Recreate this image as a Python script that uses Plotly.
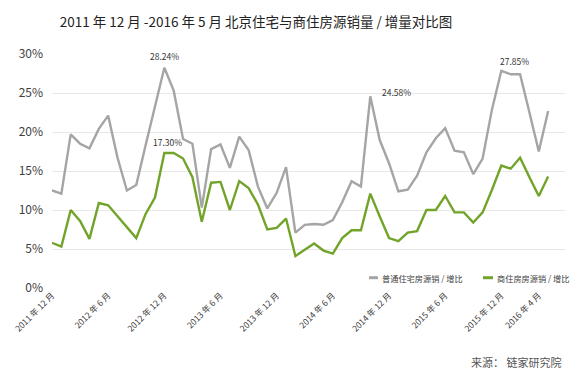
import plotly.graph_objects as go

# Months 2011-12 .. 2016-05
months = ["2011 年 12 月"] + [f"{y} 年 {m} 月" for y in range(2012, 2017) for m in range(1, 13)]
months = months[:54]

residential = [12.5, 12.1, 19.7, 18.5, 17.9, 20.4, 22.1, 16.7, 12.5, 13.2,
               18.3, 23.3, 28.24, 25.3, 19.1, 18.5, 10.3, 17.8, 18.4, 15.4,
               19.4, 17.7, 13.0, 10.2, 12.2, 15.5, 7.1, 8.1, 8.2, 8.1,
               8.7, 11.0, 13.7, 13.0, 24.58, 19.0, 16.0, 12.4, 12.6, 14.4,
               17.4, 19.2, 20.5, 17.6, 17.4, 14.6, 16.6, 22.9, 27.85, 27.4,
               27.4, 22.5, 17.5, 22.7]
commercial = [5.8, 5.3, 10.0, 8.6, 6.3, 10.9, 10.6, 9.2, 7.7, 6.4,
              9.5, 11.6, 17.3, 17.3, 16.6, 14.2, 8.5, 13.5, 13.6, 10.0,
              13.7, 12.8, 10.7, 7.5, 7.7, 8.9, 4.1, 4.9, 5.7, 4.8,
              4.4, 6.4, 7.4, 7.4, 12.1, 9.2, 6.4, 6.0, 7.1, 7.3,
              10.0, 10.0, 11.8, 9.7, 9.7, 8.4, 9.7, 12.6, 15.7, 15.3,
              16.7, 14.2, 11.8, 14.3]

tick_idx = [0, 6, 12, 18, 24, 30, 36, 42, 48, 52]
tick_labels = [months[i] for i in tick_idx]
y_ticks = [0, 5, 10, 15, 20, 25, 30]

series_names = ["普通住宅房源销 / 增比", "商住房房源销 / 增比"]
colors = ["#a5a5a5", "#72a42a"]

# labelled points: (series index, point index, xshift, yshift, xanchor)
labelled = [(0, 12, 0, 12, "center"), (1, 12, 3, 11, "center"),
            (0, 34, 10, 4, "left"), (0, 48, 13, 10, "center")]

x = list(range(len(months)))
fig = go.Figure()
for vals, name, col in zip([residential, commercial], series_names, colors):
    fig.add_trace(go.Scatter(x=x, y=vals, mode="lines", name=name,
                             line=dict(color=col, width=2.4), showlegend=False,
                             hoverinfo="skip"))

font_cjk = "Noto Sans CJK SC, Noto Sans, sans-serif"
for s, i, xs, ys, xa in labelled:
    v = [residential, commercial][s][i]
    fig.add_annotation(x=i, y=v, xref="x", yref="y", text=f"{v:.2f}%",
                       showarrow=False, xshift=xs, yshift=ys, xanchor=xa,
                       font=dict(size=8.5, color="#333333", family=font_cjk))

# custom legend (bottom right inside plot)
leg = [(369, 378, 380), (483, 493, 495)]
for (x0, x1, tx), name, col in zip(leg, series_names, colors):
    fig.add_shape(type="line", xref="paper", yref="paper",
                  x0=(x0 - 52) / 513, x1=(x1 - 52) / 513,
                  y0=(288.3 - 278) / 234.3, y1=(288.3 - 278) / 234.3,
                  line=dict(color=col, width=3))
    fig.add_annotation(xref="paper", yref="paper", x=(tx - 52) / 513,
                       y=(288.3 - 278) / 234.3, text=name, showarrow=False,
                       xanchor="left", yanchor="middle",
                       font=dict(size=8.2, color="#404040", family=font_cjk))

fig.add_annotation(xref="paper", yref="paper", x=(563 - 52) / 513,
                   y=(288.3 - 362) / 234.3, text="来源： 链家研究院",
                   showarrow=False, xanchor="right", yanchor="middle",
                   font=dict(size=11, color="#555555", family=font_cjk))

fig.update_layout(
    width=580, height=386,
    margin=dict(l=52, r=15, t=54, b=98, autoexpand=False),
    paper_bgcolor="white", plot_bgcolor="white",
    hovermode=False,
    title=dict(text="2011 年 12 月 -2016 年 5 月 北京住宅与商住房源销量 / 增量对比图",
               x=256 / 580, xanchor="center", y=1 - 22 / 386, yanchor="middle",
               xref="container", yref="container",
               font=dict(size=13.5, color="#222222", family=font_cjk)),
    xaxis=dict(range=[0, 54.8], tickmode="array", tickvals=tick_idx,
               ticktext=tick_labels, tickangle=-45, showgrid=False,
               zeroline=False, showline=False, automargin=False,
               tickfont=dict(size=8.5, color="#404040", family=font_cjk)),
    yaxis=dict(range=[0, 30], tickvals=y_ticks, automargin=False,
               ticktext=[f"{t}%" for t in y_ticks], showgrid=True,
               gridcolor="#e8e8e8", gridwidth=1, zeroline=False,
               showline=False, ticks="", ticklabelstandoff=8,
               tickfont=dict(size=12, color="#404040", family=font_cjk)),
)

fig.write_html("out.html", config={"displayModeBar": False},
               post_script="document.body.style.margin='0';document.body.style.padding='0';")
